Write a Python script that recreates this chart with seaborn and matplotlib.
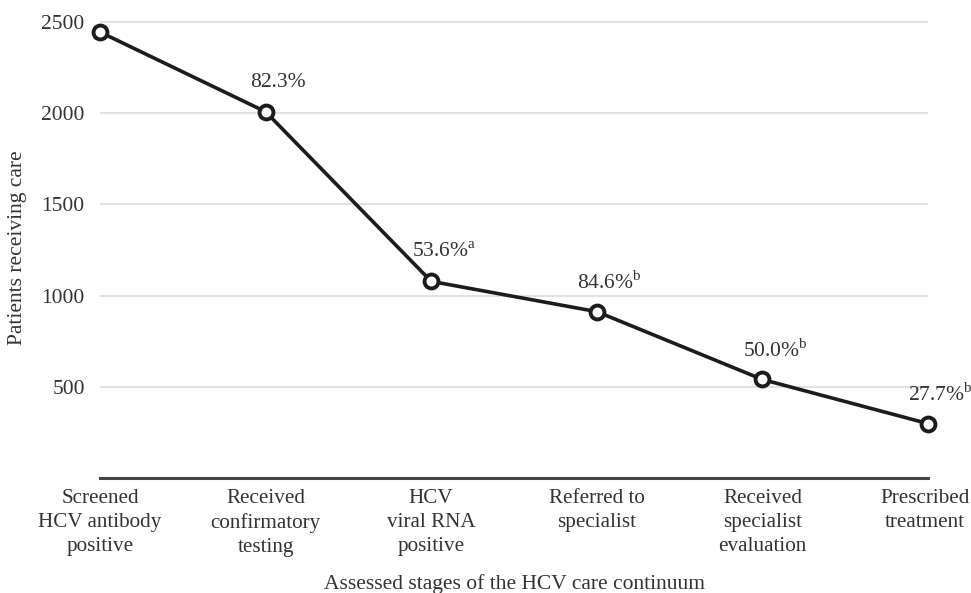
import seaborn as sns
import matplotlib.pyplot as plt
from matplotlib.transforms import ScaledTranslation
import pandas as pd

# data
stages = ["Screened\nHCV antibody\npositive", "Received\nconfirmatory\ntesting",
          "HCV\nviral RNA\npositive", "Referred to\nspecialist",
          "Received\nspecialist\nevaluation", "Prescribed\ntreatment"]
patients = [2445, 2008, 1078, 912, 540, 298]
pct_labels = ["", "82.3%", "53.6%$^{\\mathrm{a}}$", "84.6%$^{\\mathrm{b}}$",
              "50.0%$^{\\mathrm{b}}$", "27.7%$^{\\mathrm{b}}$"]
yticks = [500, 1000, 1500, 2000, 2500]

df = pd.DataFrame({"pos": range(len(stages)), "patients": patients})

sns.set_theme(style="white")
plt.rcParams['font.family'] = ['Liberation Serif', 'DejaVu Serif']
plt.rcParams['mathtext.fontset'] = 'custom'
plt.rcParams['mathtext.rm'] = 'Liberation Serif'

txt = "#333333"
fig = plt.figure(figsize=(9.71, 5.93), dpi=100)
ax = fig.add_axes([100/971, 0.194, 828/971, 0.775])

sns.lineplot(data=df, x="pos", y="patients", ax=ax, color="#1c1c1c", linewidth=2.6,
             marker="o", markersize=10, markerfacecolor="white",
             markeredgecolor="#1c1c1c", markeredgewidth=2.8, clip_on=False, zorder=5)

for x, y, lab in zip(df["pos"], df["patients"], pct_labels):
    if lab:
        ax.annotate(lab, (x, y), xytext=(9, 21), textcoords="offset points",
                    ha="center", va="center", fontsize=15.5, color=txt)

ax.set_xlim(0, len(stages) - 1)
ax.set_ylim(0, 2520)
ax.set_yticks(yticks)
ax.set_yticklabels([str(v) for v in yticks])
ax.set_xticks(range(len(stages)))
ax.set_xticklabels(stages, linespacing=1.35)
ax.yaxis.grid(True, color="#e2e2e2", linewidth=1.5)
ax.set_axisbelow(True)
ax.tick_params(axis="y", length=0, pad=11, labelsize=15.5, labelcolor=txt)
ax.tick_params(axis="x", length=0, pad=8, labelsize=15.2, labelcolor=txt)
# keep the last label inside the canvas: right-align it near the figure edge
last = ax.get_xticklabels()[-1]
last.set_horizontalalignment("right")
last.set_multialignment("center")
last.set_transform(last.get_transform() + ScaledTranslation(0.415, 0, fig.dpi_scale_trans))

for s in ["top", "right", "left"]:
    ax.spines[s].set_visible(False)
ax.spines["bottom"].set_color("#444444")
ax.spines["bottom"].set_linewidth(2.2)

ax.set_xlabel("Assessed stages of the HCV care continuum", fontsize=15.5, color=txt, labelpad=12)
ax.set_ylabel("Patients receiving care", fontsize=15.5, color=txt, labelpad=10)

fig.savefig("out.png", dpi=100)
